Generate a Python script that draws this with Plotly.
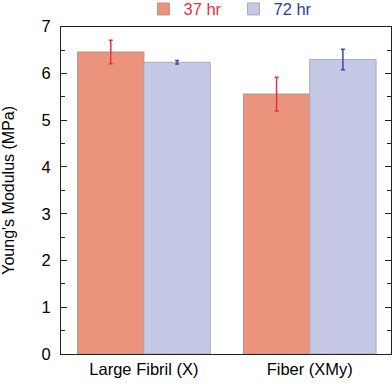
import plotly.graph_objects as go

## DATA
categories = ["Large Fibril (X)", "Fiber (XMy)"]
series_names = ["37 hr", "72 hr"]
modulus_37 = [6.46, 5.56]
err_37 = [0.25, 0.36]
modulus_72 = [6.24, 6.30]
err_72 = [0.04, 0.22]

FONT = "Liberation Sans, Arial, sans-serif"

fig = go.Figure()

fig.add_trace(go.Bar(
    x=categories, y=modulus_37,
    name="<span style='color:#E4323C'>" + series_names[0] + "</span>",
    marker=dict(color="#EC937E", line=dict(color="#A89890", width=1)),
    error_y=dict(type="data", array=err_37, color="#E4323C", thickness=1.5, width=2),
))
fig.add_trace(go.Bar(
    x=categories, y=modulus_72,
    name="<span style='color:#2E3D96'>" + series_names[1] + "</span>",
    marker=dict(color="#C6C9E6", line=dict(color="#A9AAB8", width=1),
                pattern=dict(shape="|", fgcolor="#BEC2E2", size=4, solidity=0.25)),
    error_y=dict(type="data", array=err_72, color="#3A4AA0", thickness=1.5, width=2),
))

fig.update_layout(
    width=392, height=384,
    margin=dict(l=61, r=1, t=24, b=30),
    plot_bgcolor="white", paper_bgcolor="white",
    barmode="group", bargap=0.2, bargroupgap=0,
    font=dict(family=FONT, size=15, color="black"),
    showlegend=True,
    legend=dict(orientation="h", xref="container", yref="container",
                x=0.366, xanchor="left", y=0.976, yanchor="middle",
                entrywidth=45, entrywidthmode="pixels",
                font=dict(size=16.5), bgcolor="rgba(0,0,0,0)", traceorder="normal"),
)

fig.update_xaxes(
    range=[-0.5, 1.49], showline=True, linecolor="#222", linewidth=1, mirror=True,
    ticks="", tickfont=dict(size=16.5), showgrid=False, automargin=False,
)
fig.update_yaxes(
    range=[0, 7], dtick=1, showline=True, linecolor="#222", linewidth=1, mirror="ticks",
    ticks="inside", ticklen=6, tickcolor="#222", tickfont=dict(size=16.5),
    ticklabelstandoff=6, showgrid=False, zeroline=False, automargin=False,
    minor=dict(dtick=0.5, ticks="inside", ticklen=4, tickcolor="#222"),
    title=dict(text="Young's Modulus (MPa)", font=dict(size=16), standoff=26),
)

# drop the page's default body margin so the figure fills the window
fig.write_html("out.html", config={"displayModeBar": False},
               post_script="document.body.style.margin='0';")
